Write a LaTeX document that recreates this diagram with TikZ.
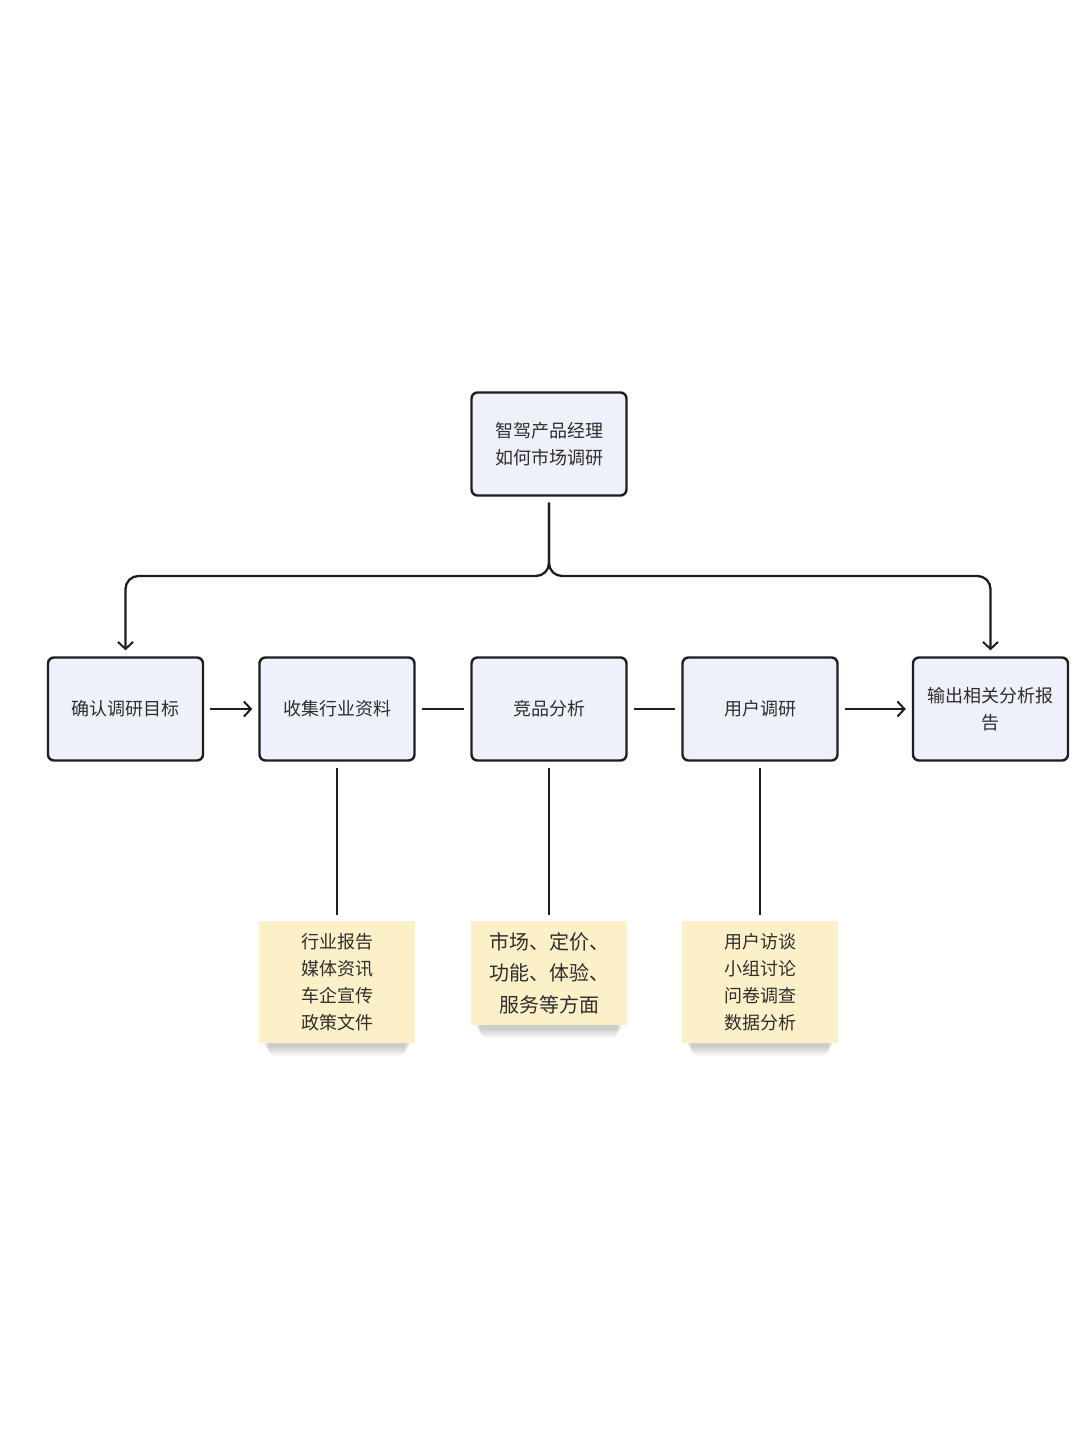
\documentclass[tikz,border=0pt]{standalone}
\usepackage{fontspec}
\setmainfont{Noto Sans CJK SC}
\usetikzlibrary{arrows.meta,backgrounds}
\definecolor{boxfill}{HTML}{EEF1FA}
\definecolor{boxline}{HTML}{1E1E1E}
\definecolor{notefill}{HTML}{FCF0C9}
\definecolor{txt}{HTML}{2E2E2E}
\tikzset{
  stepbox/.style={draw=boxline, line width=2.4pt, fill=boxfill, rounded corners=6pt,
    minimum width=155pt, minimum height=103pt, align=center, text=txt,
    font=\fontsize{18pt}{27pt}\selectfont, inner sep=4pt},
  notebox/.style={fill=notefill, minimum width=156pt, align=center, text=txt,
    inner sep=0pt, anchor=north},
  link/.style={draw=boxline, line width=2.3pt, shorten <=6pt, shorten >=6pt},
  arr/.style={link, -{Straight Barb[length=7pt,width=15pt,line width=2pt]}},
  softshadow/.style={fill=black, opacity=0.018, rounded corners=6pt},
}
\newcommand{\noteshadow}[1]{%
  \foreach \i in {1,...,10}{%
    \fill[softshadow] ([xshift=4pt+\i*0.6pt, yshift=-\i*1pt]#1.north west)
      rectangle ([xshift=-4pt-\i*0.6pt, yshift=-3pt-\i*1pt]#1.south east);
  }}
\begin{document}
\begin{tikzpicture}[x=1pt,y=-1pt]
\useasboundingbox (0,0) rectangle (1080,1440);
\node[stepbox] (top) at (549,444) {智驾产品经理\\如何市场调研};
\node[stepbox] (b1) at (125.5,709) {确认调研目标};
\node[stepbox] (b2) at (337,709) {收集行业资料};
\node[stepbox] (b3) at (549,709) {竞品分析};
\node[stepbox] (b4) at (760,709) {用户调研};
\node[stepbox] (b5) at (990.5,709) {输出相关分析报\\告};
\node[notebox, minimum height=122pt, font=\fontsize{18pt}{27pt}\selectfont] (n1) at (337,921) {行业报告\\媒体资讯\\车企宣传\\政策文件};
\node[notebox, minimum height=104pt, font=\fontsize{20pt}{31.5pt}\selectfont] (n2) at (549,921) {市场、定价、\\功能、体验、\\服务等方面};
\node[notebox, minimum height=122pt, font=\fontsize{18pt}{27pt}\selectfont] (n3) at (760,921) {用户访谈\\小组讨论\\问卷调查\\数据分析};
\begin{scope}[on background layer]
  \fill[white] (0,0) rectangle (1080,1440);
  \noteshadow{n1}
  \noteshadow{n2}
  \noteshadow{n3}
\end{scope}
\coordinate (j) at (549,576);
\draw[arr, rounded corners=13pt] (top.south) -- (j) -- (b1.north |- j) -- (b1.north);
\draw[arr, rounded corners=13pt] (top.south) -- (j) -- (b5.north |- j) -- (b5.north);
\draw[arr] (b1) -- (b2);
\draw[link] (b2) -- (b3);
\draw[link] (b3) -- (b4);
\draw[arr] (b4) -- (b5);
\draw[link] (b2) -- (n1);
\draw[link] (b3) -- (n2);
\draw[link] (b4) -- (n3);
\end{tikzpicture}
\end{document}
